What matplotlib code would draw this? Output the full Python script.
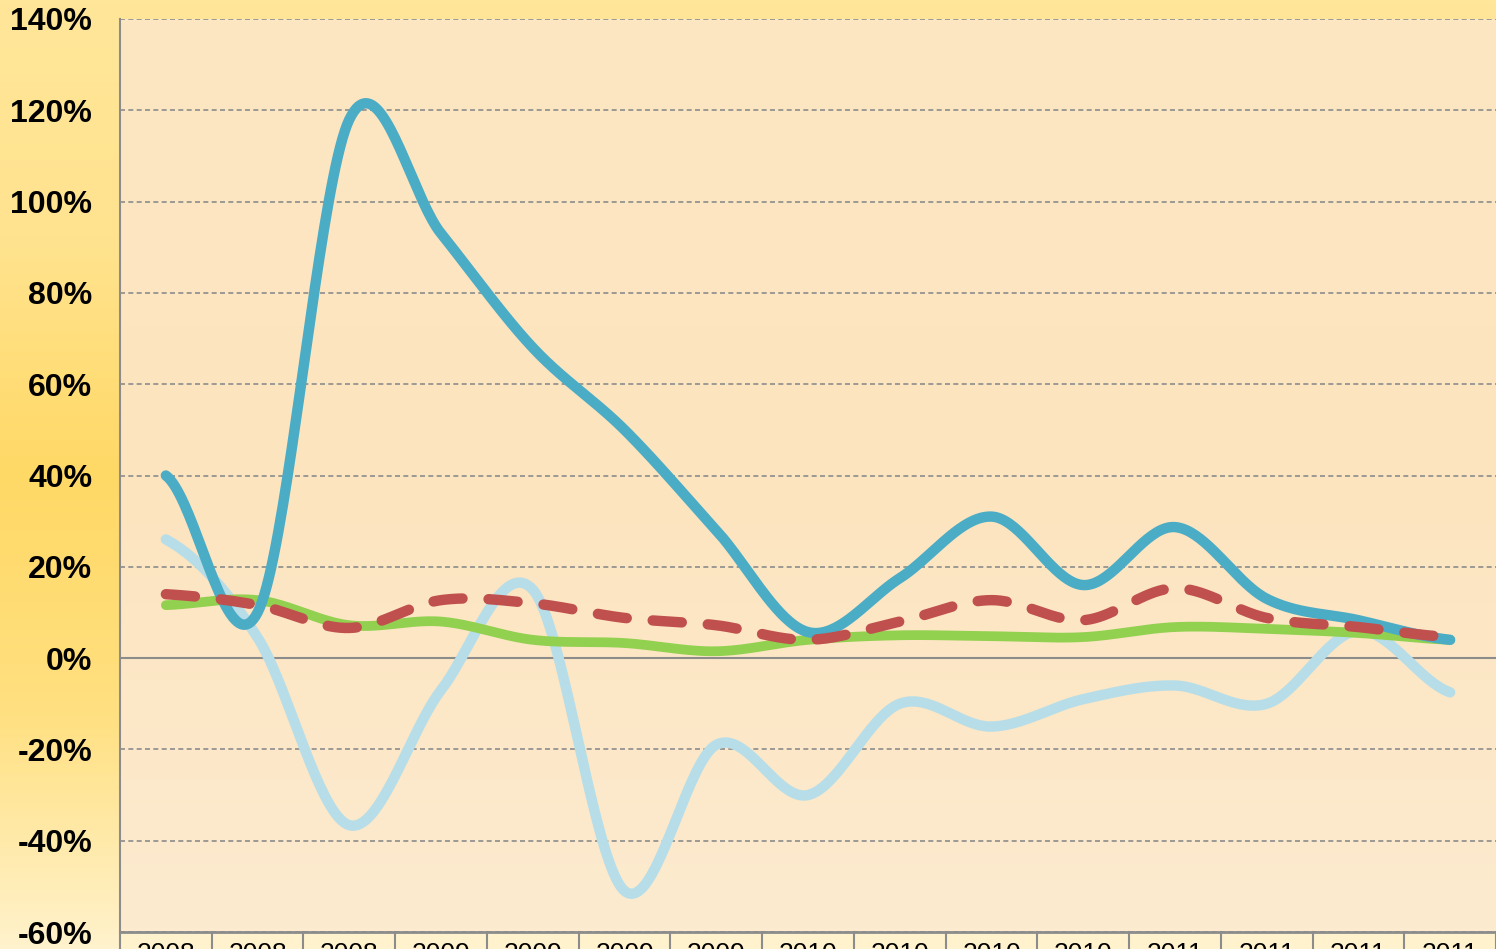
import matplotlib
matplotlib.use("Agg")
import matplotlib.pyplot as plt
import numpy as np
from matplotlib.colors import LinearSegmentedColormap
from matplotlib.patches import Rectangle

# quarter labels (year only, as shown on the axis)
quarters = ["2008", "2008", "2008", "2009", "2009", "2009", "2009",
            "2010", "2010", "2010", "2010", "2011", "2011", "2011", "2011"]

# growth rates, %
dark_blue = [40, 10, 118, 93, 68, 50, 28, 5.7, 17.5, 31, 16, 28.7, 13, 8.3, 4]
light_blue = [26, 4.5, -36.6, -7, 15, -51, -19, -30, -10, -15, -9, -6, -10, 6, -7.5]
green = [11.6, 12.7, 7.2, 8, 4, 3.3, 1.5, 4, 5, 4.8, 4.6, 6.8, 6.4, 5.5, 4]
red = [14, 11.6, 6.6, 12.7, 12, 8.8, 7.2, 4, 8, 12.7, 8.3, 15.3, 8.8, 6.8, 4.6]

yticks = np.arange(-60, 141, 20)


def smooth(y, n=40):
    # catmull-rom style smoothing, like excel's smoothed line
    y = np.asarray(y, dtype=float)
    x = np.arange(len(y), dtype=float)
    xs, ys = [], []
    for i in range(len(y) - 1):
        p0 = y[i - 1] if i > 0 else y[i]
        p1, p2 = y[i], y[i + 1]
        p3 = y[i + 2] if i + 2 < len(y) else y[i + 1]
        t = np.linspace(0, 1, n, endpoint=False)
        c1 = p1 + (p2 - p0) / 6
        c2 = p2 - (p3 - p1) / 6
        yy = (1 - t) ** 3 * p1 + 3 * (1 - t) ** 2 * t * c1 + 3 * (1 - t) * t ** 2 * c2 + t ** 3 * p2
        xs.append(x[i] + t)
        ys.append(yy)
    xs.append([x[-1]])
    ys.append([y[-1]])
    return np.concatenate(xs), np.concatenate(ys)


fig = plt.figure(figsize=(14.96, 9.49), dpi=100)

# background gradient
bg = fig.add_axes([0, 0, 1, 1], zorder=-10)
bg_cmap = LinearSegmentedColormap.from_list(
    "bg", ["#FFF2CC", "#FFE080", "#FFD966", "#FFE38F", "#FFE699"])
bg.imshow(np.linspace(0, 1, 256).reshape(-1, 1), aspect="auto", cmap=bg_cmap,
          origin="lower", extent=[0, 1, 0, 1])
bg.axis("off")

ax = fig.add_axes([120 / 1496, 1 - 932 / 949, 1376 / 1496, 913 / 949])
ax.set_facecolor("none")

area_cmap = LinearSegmentedColormap.from_list(
    "area", ["#FDEBD0", "#FCE4BE", "#FDE7C3"])
ax.imshow(np.linspace(0, 1, 256).reshape(-1, 1), aspect="auto", cmap=area_cmap,
          origin="lower", extent=[-0.5, 14.5, -60, 140], zorder=0)

for v in yticks:
    if v == 0:
        ax.axhline(v, color="#8C8C8C", lw=1.5, zorder=1)
    else:
        ax.axhline(v, color="#8C8C8C", lw=1.2, ls=(0, (3, 2)), zorder=1)

kw = dict(solid_capstyle="round", solid_joinstyle="round")
x, y = smooth(light_blue)
ax.plot(x, y, color="#B7DEE8", lw=7.5, zorder=2, **kw)
x, y = smooth(green)
ax.plot(x, y, color="#92D050", lw=7, zorder=3, **kw)
x, y = smooth(dark_blue)
ax.plot(x, y, color="#4BACC6", lw=7.5, zorder=4, **kw)
x, y = smooth(red)
ax.plot(x, y, color="#C0504D", lw=7.5, ls=(0, (2.8, 2.5)), dash_capstyle="round",
        zorder=5)

ax.set_xlim(-0.5, 14.5)
ax.set_ylim(-60, 140)
ax.set_yticks(yticks)
ax.set_yticklabels([f"{v}%" for v in yticks], fontsize=23, fontweight="bold",
                   family="Liberation Sans")
ax.tick_params(axis="y", length=0, pad=20)

ax.set_xticks(range(len(quarters)))
ax.set_xticklabels(quarters, fontsize=19, family="Liberation Sans")
ax.tick_params(axis="x", length=0, pad=7)

for s in ["top", "right"]:
    ax.spines[s].set_visible(False)
ax.spines["left"].set_color("#8C8C8C")
ax.spines["left"].set_linewidth(1.5)
ax.spines["bottom"].set_color("#8C8C8C")
ax.spines["bottom"].set_linewidth(2)

# category boxes under the axis
trans = ax.get_xaxis_transform()
ax.add_patch(Rectangle((-0.5, -0.05), 15, 0.05, transform=trans,
                       facecolor="#FFF2CC", edgecolor="none", clip_on=False, zorder=0))
for i in range(16):
    ax.plot([i - 0.5, i - 0.5], [0, -0.05], transform=trans, color="#8C8C8C",
            lw=1.5, clip_on=False, zorder=1)

fig.savefig("out.png", dpi=100)
